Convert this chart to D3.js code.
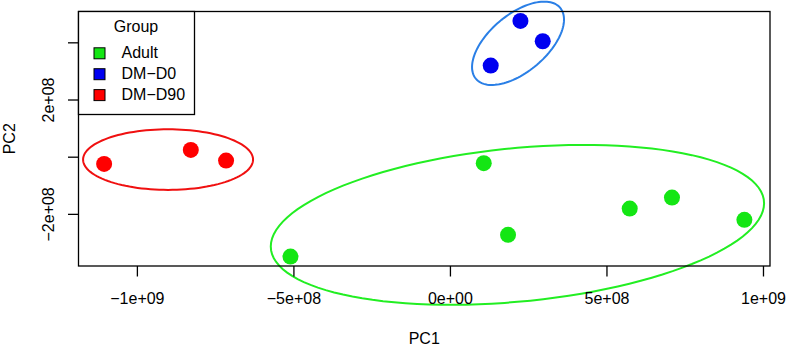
<!DOCTYPE html>
<html>
<head>
<meta charset="utf-8">
<script src="https://cdn.jsdelivr.net/npm/d3@7"></script>
<style>
body { margin: 0; background: #fff; }
text { font-family: "Liberation Sans", Arial, sans-serif; font-size: 16px; fill: #000; }
</style>
</head>
<body>
<script>
const width = 787;
const height = 345;

// samples (PC scores)
const sampleGroup = ['Adult', 'Adult', 'Adult', 'Adult', 'Adult', 'Adult',
    'DM-D0', 'DM-D0', 'DM-D0',
    'DM-D90', 'DM-D90', 'DM-D90'];
const pc1 = [-5.11e8, 1.064e8, 1.84e8, 5.727e8, 7.077e8, 9.39e8,
    2.236e8, 2.948e8, 1.287e8,
    -1.1063e9, -8.294e8, -7.167e8];
const pc2 = [-3.476e8, -2.10e7, -2.717e8, -1.797e8, -1.413e8, -2.192e8,
    4.766e8, 4.056e8, 3.203e8,
    -2.34e7, 2.55e7, -1.19e7];

// group ellipses: centre, half-widths and correlation in PC units
const ellipseGroup = ['Adult', 'DM-D0', 'DM-D90'];
const ellipseCx = [2.14e8, 2.159e8, -9.02e8];
const ellipseCy = [-2.367e8, 3.983e8, -8.4e6];
const ellipseRx = [7.879e8, 1.469e8, 2.715e8];
const ellipseRy = [2.797e8, 1.458e8, 1.06e8];
const ellipseRho = [0.27, 0.57, 0.0];

const groups = ['Adult', 'DM-D0', 'DM-D90'];

const xTicks = [-1e9, -5e8, 0, 5e8, 1e9];
const xTickLabels = ['\u22121e+09', '\u22125e+08', '0e+00', '5e+08', '1e+09'];
const yTicks = [-2e8, 0, 2e8, 4e8];
const yTickLabels = ['\u22122e+08', '', '2e+08', ''];

const pointColor = d3.scaleOrdinal()
    .domain(groups)
    .range(['#14e614', '#0000f0', '#ff0000']);
const ellipseColor = d3.scaleOrdinal()
    .domain(groups)
    .range(['#22ee22', '#2a7fe6', '#f01010']);

const plot = { left: 78.5, right: 770, top: 11.5, bottom: 266 };

// R style 4% padding of the data range
function padded(values) {
    const [lo, hi] = d3.extent(values);
    const pad = (hi - lo) * 0.04;
    return [lo - pad, hi + pad];
}

const x = d3.scaleLinear().domain(padded(pc1)).range([plot.left, plot.right]);
const y = d3.scaleLinear().domain(padded(pc2)).range([plot.bottom, plot.top]);

const svg = d3.select('body')
    .append('svg')
    .attr('width', width)
    .attr('height', height);

// points
svg.append('g')
    .selectAll('circle')
    .data(pc1.map((v, i) => ({ x: v, y: pc2[i], group: sampleGroup[i] })))
    .enter().append('circle')
    .attr('cx', d => x(d.x))
    .attr('cy', d => y(d.y))
    .attr('r', 8)
    .style('fill', d => pointColor(d.group));

// ellipses
const line = d3.line()
    .x(d => x(d[0]))
    .y(d => y(d[1]))
    .curve(d3.curveLinearClosed);

svg.append('g')
    .selectAll('path')
    .data(ellipseGroup.map((g, i) => ({ group: g, i: i })))
    .enter().append('path')
    .attr('d', d => {
        const i = d.i;
        const rx = ellipseRx[i], ry = ellipseRy[i], rho = ellipseRho[i];
        const pts = d3.range(120).map(k => {
            const t = k / 120 * 2 * Math.PI;
            return [ellipseCx[i] + rx * Math.cos(t),
                ellipseCy[i] + rho * ry * Math.cos(t) + ry * Math.sqrt(1 - rho * rho) * Math.sin(t)];
        });
        return line(pts);
    })
    .style('fill', 'none')
    .style('stroke', d => ellipseColor(d.group))
    .style('stroke-width', 2);

// box
svg.append('rect')
    .attr('x', plot.left)
    .attr('y', plot.top)
    .attr('width', plot.right - plot.left)
    .attr('height', plot.bottom - plot.top)
    .style('fill', 'none')
    .style('stroke', '#000')
    .style('stroke-width', 1.3);

// x axis
const xAxis = svg.append('g');
xAxis.selectAll('line')
    .data(xTicks)
    .enter().append('line')
    .attr('x1', d => x(d)).attr('x2', d => x(d))
    .attr('y1', plot.bottom).attr('y2', plot.bottom + 10.5)
    .style('stroke', '#000').style('stroke-width', 1.3);
xAxis.selectAll('text')
    .data(xTicks)
    .enter().append('text')
    .attr('x', d => x(d))
    .attr('y', 304)
    .attr('text-anchor', 'middle')
    .text((d, i) => xTickLabels[i]);

// y axis
const yAxis = svg.append('g');
yAxis.selectAll('line')
    .data(yTicks)
    .enter().append('line')
    .attr('x1', plot.left - 10.5).attr('x2', plot.left)
    .attr('y1', d => y(d)).attr('y2', d => y(d))
    .style('stroke', '#000').style('stroke-width', 1.3);
yAxis.selectAll('text')
    .data(yTicks)
    .enter().append('text')
    .attr('transform', d => `translate(53.5,${y(d)}) rotate(-90)`)
    .attr('text-anchor', 'middle')
    .text((d, i) => yTickLabels[i]);

// axis titles
svg.append('text')
    .attr('x', (plot.left + plot.right) / 2)
    .attr('y', 343.5)
    .attr('text-anchor', 'middle')
    .text('PC1');
svg.append('text')
    .attr('transform', `translate(15,${(plot.top + plot.bottom) / 2}) rotate(-90)`)
    .attr('text-anchor', 'middle')
    .text('PC2');

// legend
const legend = svg.append('g');
legend.append('rect')
    .attr('x', plot.left).attr('y', plot.top)
    .attr('width', 116).attr('height', 103)
    .style('fill', '#fff')
    .style('stroke', '#000')
    .style('stroke-width', 1.3);
legend.append('text')
    .attr('x', 136).attr('y', 31.5)
    .attr('text-anchor', 'middle')
    .text('Group');
const rows = legend.selectAll('g.row')
    .data(groups)
    .enter().append('g')
    .attr('class', 'row')
    .attr('transform', (d, i) => `translate(0,${58.3 + i * 20.9})`);
rows.append('rect')
    .attr('x', 94).attr('y', -10.5)
    .attr('width', 11).attr('height', 11)
    .style('fill', d => pointColor(d))
    .style('stroke', '#000')
    .style('stroke-width', 1);
rows.append('text')
    .attr('x', 121.5).attr('y', 0)
    .text(d => d.replace('-', '\u2212'));
</script>
</body>
</html>
